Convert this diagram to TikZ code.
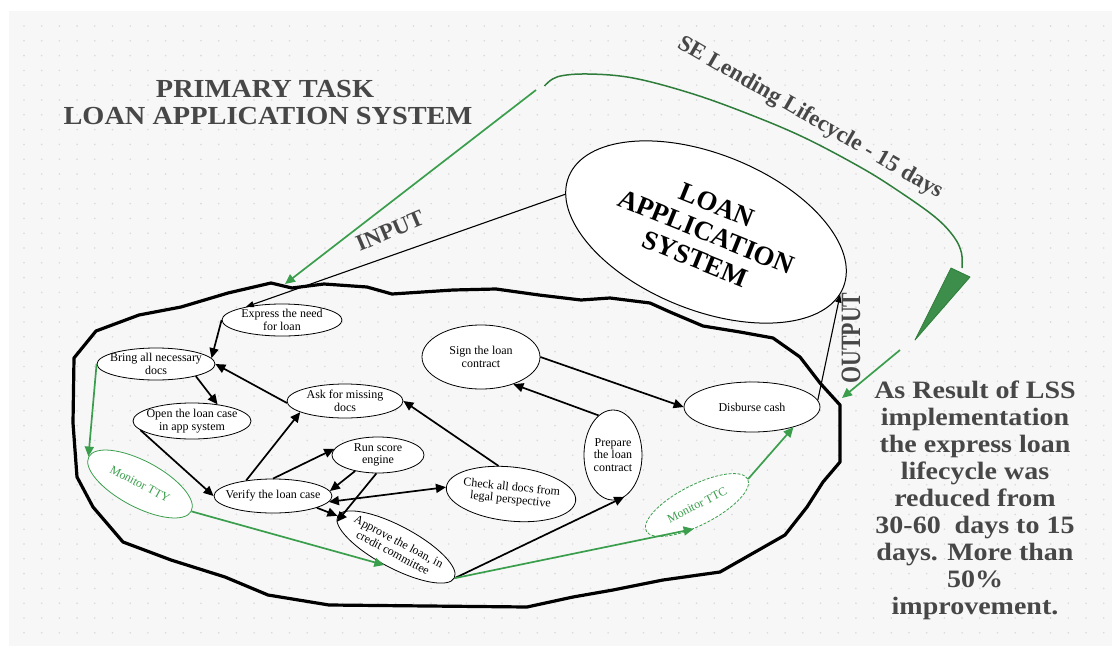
\documentclass[tikz,border=0pt]{standalone}
\usepackage{fontspec}
\setmainfont{Liberation Serif}
\usetikzlibrary{arrows.meta,shapes.geometric}

\definecolor{panel}{HTML}{F7F7F8}
\definecolor{dotc}{HTML}{DADADF}
\definecolor{ink}{HTML}{474747}
\definecolor{flow}{HTML}{3A9E4C}
\definecolor{cyclegreen}{HTML}{2E7D3A}
\definecolor{wedge}{HTML}{3E8E4B}

\begin{document}
\begin{tikzpicture}[x=1pt,y=-1pt,
  task/.style={ellipse, draw=black, line width=0.8pt, fill=white, inner sep=-30pt,
    align=center, font=\fontsize{12}{12.5}\selectfont},
  monitor/.style={task, draw=flow, text=flow},
  tip/.style={-{Triangle[length=10pt,width=9pt]}},
  link/.style={tip, line width=1.7pt},
  dlink/.style={{Triangle[length=10pt,width=9pt]}-{Triangle[length=10pt,width=9pt]}, line width=1.7pt},
  slink/.style={-{Triangle[length=8pt,width=6pt]}, line width=1.1pt},
  glink/.style={link, color=flow},
  label/.style={text=ink, inner sep=0pt}
]
\useasboundingbox (0,0) rectangle (1112,646);

% background panel with dot grid
\fill[white] (0,0) rectangle (1112,646);
\fill[panel] (9,11) rectangle (1112,646);
\foreach \i in {0,...,61}
  \foreach \j in {0,...,41}
    \fill[dotc] (24+\i*17.7, 26+\j*14.8) circle (0.9);

% titles
\node[label, anchor=base, xscale=1.09, font=\bfseries\fontsize{26}{28}\selectfont] (titleA) at (265,97) {PRIMARY TASK};
\node[label, anchor=base, xscale=1.09, font=\bfseries\fontsize{26}{28}\selectfont] (titleB) at (268,124) {LOAN APPLICATION SYSTEM};

% the system ellipse
\node[ellipse, draw=black, line width=1pt, fill=white, inner sep=-30pt,
      minimum width=296pt, minimum height=156pt, rotate=-22, align=center,
      font=\bfseries\fontsize{27}{29}\selectfont] (sys) at (706,232) {LOAN\\APPLICATION\\SYSTEM};

% lending lifecycle loop
\draw[cyclegreen, line width=1.5pt] plot[smooth, tension=0.6] coordinates {
  (544.5,86) (557.7,76.7) (588,74) (633,78) (690,93) (746,113) (803,137)
  (860,167) (897,190) (935,217) (954,237) (961.5,253) (962,268)};
\filldraw[fill=wedge, draw=cyclegreen, line width=0.8pt, line join=round]
  (951,268) -- (970,277) -- (915,340) -- cycle;
\node[label, rotate=-30, font=\bfseries\fontsize{23}{25}\selectfont] (lending) at (810,118) {SE Lending Lifecycle - 15 days};

% process boundary
\draw[line width=3.2pt, line join=round]
  (74,358) -- (96,331) -- (139,315) -- (181,307) -- (228,293) -- (271,283) -- (292,288)
  -- (324,284) -- (367,287) -- (392,294) -- (453,290) -- (496,289) -- (539,295)
  -- (581,300) -- (610,298) -- (650,303) -- (670,312) -- (703,326) -- (740,332)
  -- (773,338) -- (800,357) -- (820,383) -- (840,405) -- (840,462) -- (823,482)
  -- (807,507) -- (785,535) -- (720,572) -- (663,580) -- (613,590) -- (573,597)
  -- (527,607) -- (329,605) -- (268,595) -- (225,577) -- (171,560) -- (123,542)
  -- (93,507) -- (77,477) -- (73,423) -- cycle;

% process steps
\node[task, minimum width=120pt, minimum height=32pt] (express) at (282,320) {Express the need\\for loan};
\node[task, minimum width=118pt, minimum height=32pt] (bring) at (156,364) {Bring all necessary\\docs};
\node[task, minimum width=118pt, minimum height=36pt] (open) at (192,421) {Open the loan case\\in app system};
\node[task, minimum width=116pt, minimum height=34pt] (ask) at (345,401) {Ask for missing\\docs};
\node[task, minimum width=92pt, minimum height=36pt] (run) at (378,455) {Run score\\engine};
\node[task, minimum width=118pt, minimum height=34pt] (verify) at (273,496) {Verify the loan case};
\node[task, minimum width=118pt, minimum height=64pt] (sign) at (481,357) {Sign the loan\\contract};
\node[task, minimum width=130pt, minimum height=54pt, rotate=-6] (check) at (511,494) {Check all docs from\\legal perspective};
\node[task, minimum width=58pt, minimum height=90pt] (prepare) at (613,455) {Prepare\\the loan\\contract};
\node[task, minimum width=132pt, minimum height=42pt, rotate=-28] (approve) at (396,547) {Approve the loan, in\\credit committee};
\node[task, minimum width=136pt, minimum height=50pt] (disburse) at (752,407) {Disburse cash};
\node[monitor, minimum width=116pt, minimum height=46pt, rotate=-28] (tty) at (140,484) {Monitor TTY};
\node[monitor, minimum width=114pt, minimum height=40pt, rotate=27,
      dash pattern=on 3pt off 1.5pt] (ttc) at (697,505) {Monitor TTC};

% input / output
\coordinate (inStart) at (536,90);
\coordinate (inEnd) at (285,284);
\draw[glink] (inStart) -- (inEnd);
\draw[slink] (sys.187) -- (express.160);
\draw[slink] (disburse.6) -- (sys.-3);
\node[label, rotate=23, font=\bfseries\fontsize{23}{25}\selectfont] (inputlbl) at (390,231) {INPUT};
\node[label, rotate=90, font=\bfseries\fontsize{28}{30}\selectfont] (outputlbl) at (851,338) {\scalebox{0.78}[1]{OUTPUT}};
\coordinate (outStart) at (900,350);
\coordinate (outEnd) at (842,398);
\draw[glink] (outStart) -- (outEnd);

% step connectors
\draw[link] (express.west) -- (bring.6);
\draw[link] (ask.182) -- (bring.east);
\draw[link] (bring.-17) -- (open.33);
\draw[link] (open.190) -- (verify.west);
\draw[link] (verify.150) -- (ask.194);
\draw[link] (verify.north) -- (run.172);
\draw[link] (run.215) -- (verify.5);
\draw[link] (run.265) -- (approve.185);
\draw[link] (verify.-15) -- (approve.180);
\draw[dlink] (verify.-6) -- (check.west);
\draw[link] (check.120) -- (ask.east);
\draw[link] (prepare.110) -- (sign.-40);
\draw[link] (approve.east) -- (prepare.-75);
\draw[link] (sign.east) -- (disburse.west);

% monitoring connectors
\draw[glink] (bring.west) -- (tty.west);
\draw[glink] (tty.east) -- (approve.265);
\draw[glink] (approve.east) -- (ttc.235);
\draw[glink] (ttc.east) -- (disburse.-26);

% result statement
\node[label, anchor=north, align=center, xscale=1.12,
      font=\bfseries\fontsize{25}{27}\selectfont] (result) at (975,381)
  {As Result of LSS\\implementation\\the express loan\\lifecycle was\\reduced from\\30-60\ \ days to 15\\days. More than\\50\%\\improvement.};
\end{tikzpicture}
\end{document}
